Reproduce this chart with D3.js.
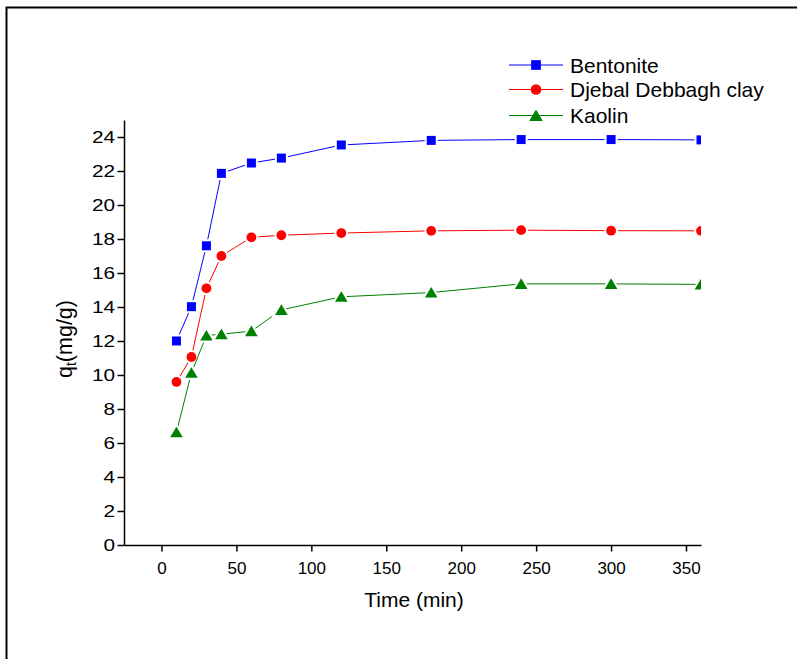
<!DOCTYPE html>
<html><head><meta charset="utf-8">
<script src="https://cdn.jsdelivr.net/npm/d3@7"></script>
<style>body{margin:0;background:#fff}svg{display:block}</style>
</head><body>
<script>
// Adsorption kinetics: uptake q_t (mg/g) versus contact time for three clays
const time = [10, 20, 30, 40, 60, 80, 120, 180, 240, 300, 360];
const bentonite = [12.0, 14.02, 17.6, 21.86, 22.47, 22.76, 23.53, 23.8, 23.85, 23.85, 23.83];
const djebal = [9.59, 11.06, 15.1, 17.0, 18.1, 18.22, 18.35, 18.48, 18.52, 18.49, 18.48];
const kaolin = [6.63, 10.13, 12.32, 12.4, 12.58, 13.83, 14.6, 14.85, 15.36, 15.36, 15.33];
const seriesNames = ["Bentonite", "Djebal Debbagh clay", "Kaolin"];
const seriesColors = ["#0000ff", "#ff0000", "#008000"];
const seriesShapes = ["square", "circle", "triangle"];
const xMajorTicks = [0, 50, 100, 150, 200, 250, 300, 350];
const xMinorTicks = [-25, 25, 75, 125, 175, 225, 275, 325];
const yMajorTicks = [0, 2, 4, 6, 8, 10, 12, 14, 16, 18, 20, 22, 24];
const yMinorTicks = [1, 3, 5, 7, 9, 11, 13, 15, 17, 19, 21, 23, 25];

const W = 797, H = 659;
const FONT = "'Liberation Sans', Arial, Helvetica, sans-serif";
const svg = d3.select("body").append("svg").attr("width", W).attr("height", H)
  .style("font-family", FONT);

// outer frame
svg.append("rect").attr("x", 6.5).attr("y", 7.5).attr("width", 820).attr("height", 680)
  .attr("fill", "none").attr("stroke", "#000").attr("stroke-width", 2);

const x = d3.scaleLinear().domain([-25, 360]).range([124, 701]);
const y = d3.scaleLinear().domain([0, 25]).range([545, 120]);

// axes
const gx = svg.append("g").attr("transform", `translate(0,${y(0)})`);
gx.call(d3.axisBottom(x).tickValues(xMinorTicks).tickSize(3.5).tickFormat(""));
gx.call(d3.axisBottom(x).tickValues(xMajorTicks).tickSize(6.5).tickPadding(10).tickSizeOuter(0));
const gy = svg.append("g").attr("transform", `translate(${x(-25)},0)`);
gy.call(d3.axisLeft(y).tickValues(yMinorTicks).tickSize(4).tickFormat(""));
gy.call(d3.axisLeft(y).tickValues(yMajorTicks).tickSize(6.5).tickPadding(3).tickSizeOuter(0));
svg.selectAll(".domain").attr("stroke-width", 1.5);
svg.selectAll(".tick line").attr("stroke-width", 1.5);
gx.selectAll(".tick text").attr("font-size", 17).attr("font-family", FONT).attr("fill", "#000");
gy.selectAll(".tick text").attr("font-size", 16).attr("font-family", FONT).attr("fill", "#000")
  .attr("x", -9 / 1.3).attr("transform", "scale(1.3,1)");

// axis titles
svg.append("text").attr("x", 414).attr("y", 607).attr("text-anchor", "middle")
  .attr("font-size", 21).text("Time (min)");
const yt = svg.append("text").attr("transform", "translate(72,339) rotate(-90)")
  .attr("text-anchor", "middle").attr("font-size", 21.5);
yt.append("tspan").text("q");
yt.append("tspan").attr("font-size", 14).attr("dy", 4).text("t");
yt.append("tspan").attr("dy", -4).text("(mg/g)");

// marker drawing
function marker(g, shape, color, s) {
  if (shape === "square") {
    return g.append("rect").attr("x", -4.5 * s).attr("y", -4.5 * s)
      .attr("width", 9 * s).attr("height", 9 * s).attr("fill", color);
  } else if (shape === "circle") {
    return g.append("circle").attr("r", 4.9 * s).attr("fill", color);
  }
  return g.append("path")
    .attr("d", `M0,${-5.6 * s}L${6.3 * s},${5 * s}L${-6.3 * s},${5 * s}Z`).attr("fill", color);
}

svg.append("clipPath").attr("id", "plotClip").append("rect")
  .attr("x", 0).attr("y", 0).attr("width", x(360)).attr("height", H);
const plot = svg.append("g").attr("clip-path", "url(#plotClip)");

const values = [bentonite, djebal, kaolin];
const line = d3.line().x(d => x(d[0])).y(d => y(d[1]));
values.forEach((vals, i) => {
  const pts = time.map((t, j) => [t, vals[j]]);
  plot.append("path").datum(pts).attr("d", line).attr("fill", "none")
    .attr("stroke", seriesColors[i]).attr("stroke-width", 1);
  pts.forEach(p => {
    const g = plot.append("g").attr("transform", `translate(${x(p[0])},${y(p[1])})`);
    marker(g, seriesShapes[i], seriesColors[i], 1)
      .attr("stroke", "#fff").attr("stroke-width", 4).attr("paint-order", "stroke");
  });
});

// legend
const legendRows = [65, 89.5, 115.5];
seriesNames.forEach((name, i) => {
  const ly = legendRows[i];
  svg.append("line").attr("x1", 509).attr("x2", 563).attr("y1", ly).attr("y2", ly)
    .attr("stroke", seriesColors[i]).attr("stroke-width", 1);
  const g = svg.append("g").attr("transform", `translate(536,${ly})`);
  marker(g, seriesShapes[i], seriesColors[i], 1.08);
  svg.append("text").attr("x", 570).attr("y", ly + 7.5).attr("font-size", 21).text(name);
});
</script>
</body></html>
